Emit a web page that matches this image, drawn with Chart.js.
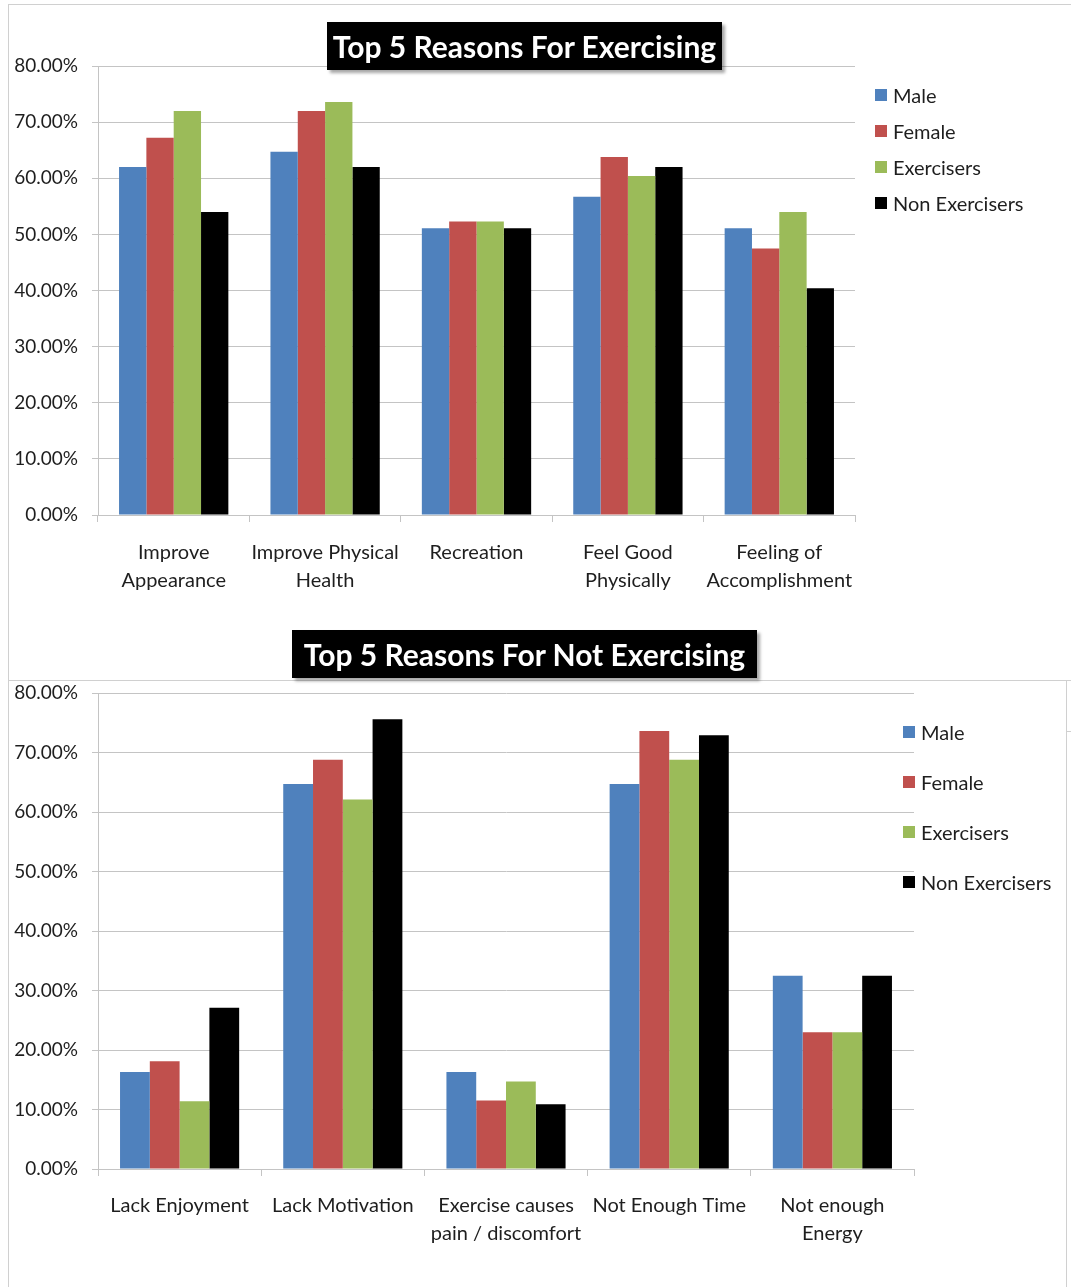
<!DOCTYPE html>
<html><head><meta charset="utf-8">
<script src="https://cdn.jsdelivr.net/npm/chart.js@4"></script>
<style>
html,body{margin:0;padding:0;background:#fff;}
body{width:1071px;height:1287px;position:relative;overflow:hidden;font-family:Lato,sans-serif;}
.frame{position:absolute;border:1px solid #d0d0d0;box-sizing:border-box;}
.title{position:absolute;background:#000;color:#fff;font-weight:bold;font-size:30px;font-family:Lato,sans-serif;text-align:center;box-shadow:3px 3px 3px rgba(0,0,0,0.35);white-space:nowrap;z-index:5;}
canvas{position:absolute;left:0;}
.legend{position:absolute;font-size:20px;font-family:Lato,sans-serif;color:#1e1e1e;z-index:4;}
.legend .item{position:absolute;left:0;white-space:nowrap;height:24px;line-height:24px;}
.legend .sw{position:absolute;width:12px;height:12px;left:0;top:6px;}
.legend .tx{position:absolute;left:18px;top:0;}
</style></head>
<body>
<div class="frame" style="left:8px;top:4px;width:1080px;height:677px;"></div>
<div class="frame" style="left:8px;top:680px;width:1059px;height:640px;"></div>
<div class="frame" style="left:1066px;top:731px;width:20px;height:1px;border-width:1px 0 0 0;"></div>
<canvas id="c1" width="1071" height="620" style="top:0px"></canvas>
<canvas id="c2" width="1071" height="667" style="top:620px"></canvas>
<div class="title" id="t1" style="left:327px;top:22px;width:395px;height:48px;line-height:48px;">Top 5 Reasons For Exercising</div>
<div class="title" id="t2" style="left:292px;top:630px;width:465px;height:48px;line-height:48px;">Top 5 Reasons For Not Exercising</div>
<div class="legend" id="l1" style="left:875px;top:83px;"></div>
<div class="legend" id="l2" style="left:903px;top:720px;"></div>
<script>
const seriesNames = ['Male', 'Female', 'Exercisers', 'Non Exercisers'];
const seriesColors = ['#4f81bd', '#c0504d', '#9bbb59', '#000000'];

const reasonsFor = [['Improve', 'Appearance'], ['Improve Physical', 'Health'], ['Recreation'], ['Feel Good', 'Physically'], ['Feeling of', 'Accomplishment']];
const forMale = [62.0, 64.7, 51.1, 56.7, 51.1];
const forFemale = [67.2, 72.0, 52.3, 63.8, 47.5];
const forExercisers = [72.0, 73.6, 52.3, 60.4, 54.0];
const forNonExercisers = [54.0, 62.0, 51.1, 62.0, 40.4];

const reasonsNot = [['Lack Enjoyment'], ['Lack Motivation'], ['Exercise causes', 'pain / discomfort'], ['Not Enough Time'], ['Not enough', 'Energy']];
const notMale = [16.3, 64.7, 16.3, 64.7, 32.5];
const notFemale = [18.1, 68.8, 11.5, 73.6, 23.0];
const notExercisers = [11.4, 62.1, 14.7, 68.8, 23.0];
const notNonExercisers = [27.1, 75.6, 10.9, 72.9, 32.5];

const yTicks = [0, 10, 20, 30, 40, 50, 60, 70, 80];

const GRID = '#c4c4c4';
const TEXT = '#1e1e1e';

function makeChart(id, labels, series, cfg) {
  const datasets = series.map((d, i) => ({
    label: seriesNames[i],
    data: d,
    backgroundColor: seriesColors[i],
    borderWidth: 0,
    categoryPercentage: cfg.catPct,
    barPercentage: 1.0
  }));
  return new Chart(document.getElementById(id), {
    type: 'bar',
    data: { labels: labels, datasets: datasets },
    options: {
      responsive: false,
      animation: false,
      devicePixelRatio: 1,
      layout: { padding: { left: 0, top: cfg.padTop, right: cfg.padRight, bottom: 0 } },
      plugins: { legend: { display: false }, tooltip: { enabled: false }, title: { display: false } },
      scales: {
        x: {
          grid: { offset: true, drawOnChartArea: false, drawTicks: true, tickLength: 7, color: GRID },
          border: { display: true, color: GRID, width: 1 },
          ticks: { font: { family: 'Lato', size: 20, lineHeight: 1.42 }, color: TEXT, padding: cfg.xPad, maxRotation: 0, autoSkip: false },
          afterFit: s => { s.height = cfg.xHeight; }
        },
        y: {
          min: 0, max: 80,
          afterBuildTicks: s => { s.ticks = yTicks.map(v => ({ value: v })); },
          grid: { color: GRID, tickLength: 6, drawTicks: true },
          border: { display: true, color: GRID, width: 1 },
          ticks: { font: { family: 'Lato', size: 19 }, color: TEXT, padding: 14, callback: v => v.toFixed(2) + '%' },
          afterFit: s => { s.width = 98; }
        }
      }
    }
  });
}

function htmlLegend(chart, elId, spacing) {
  const items = Chart.defaults.plugins.legend.labels.generateLabels(chart);
  const box = document.getElementById(elId);
  items.forEach((it, i) => {
    const d = document.createElement('div');
    d.className = 'item';
    d.style.top = (i * spacing) + 'px';
    const sw = document.createElement('span');
    sw.className = 'sw';
    sw.style.background = it.fillStyle;
    const tx = document.createElement('span');
    tx.className = 'tx';
    tx.textContent = it.text;
    d.appendChild(sw); d.appendChild(tx);
    box.appendChild(d);
  });
}

const ch1 = makeChart('c1', reasonsFor, [forMale, forFemale, forExercisers, forNonExercisers], { catPct: 0.722, padTop: 66, padRight: 216, xHeight: 105, xPad: 16 });
const ch2 = makeChart('c2', reasonsNot, [notMale, notFemale, notExercisers, notNonExercisers], { catPct: 0.73, padTop: 73, padRight: 157, xHeight: 118, xPad: 15 });
htmlLegend(ch1, 'l1', 36);
htmlLegend(ch2, 'l2', 50);
</script>
</body></html>
